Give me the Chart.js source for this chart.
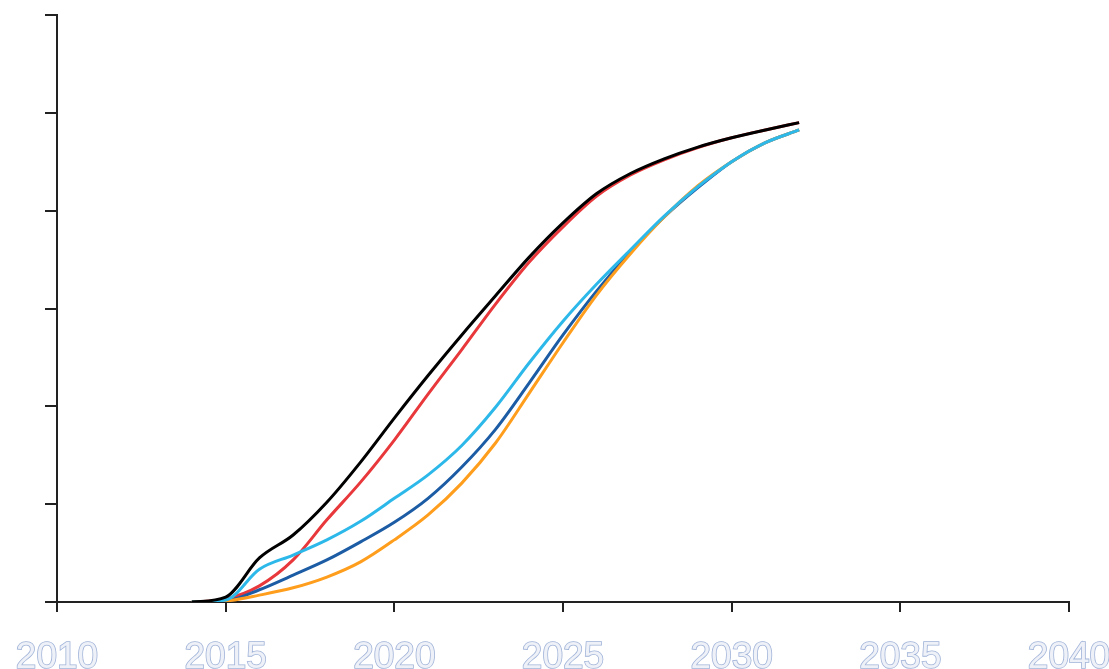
<!DOCTYPE html>
<html>
<head>
<meta charset="utf-8">
<script src="https://cdn.jsdelivr.net/npm/chart.js@4/dist/chart.umd.min.js"></script>
<style>
  body { margin: 0; background: #fff; }
</style>
</head>
<body>
<canvas id="myChart" width="1109" height="669"></canvas>
<script>
// years on the x axis
var years = [2014, 2015, 2016, 2017, 2018, 2019, 2020, 2021, 2022, 2023,
             2024, 2025, 2026, 2027, 2028, 2029, 2030, 2031, 2032];

// series values (share, 0..1.2 axis)
var blackLine = [0, 0.010, 0.090, 0.137, 0.204, 0.286, 0.376, 0.463, 0.546, 0.626,
                 0.705, 0.775, 0.835, 0.876, 0.906, 0.930, 0.949, 0.965, 0.980];
var redLine = [0, 0.006, 0.033, 0.086, 0.168, 0.245, 0.331, 0.425, 0.516, 0.609,
               0.695, 0.767, 0.830, 0.873, 0.904, 0.929, 0.949, 0.965, 0.980];
var cyanLine = [0, 0.004, 0.067, 0.096, 0.127, 0.165, 0.212, 0.260, 0.320, 0.398,
                0.489, 0.574, 0.650, 0.720, 0.789, 0.849, 0.900, 0.939, 0.965];
var blueLine = [0, 0.002, 0.025, 0.055, 0.086, 0.123, 0.163, 0.212, 0.276, 0.353,
                0.448, 0.546, 0.636, 0.716, 0.787, 0.847, 0.900, 0.939, 0.965];
var orangeLine = [0, 0.002, 0.014, 0.029, 0.051, 0.082, 0.127, 0.178, 0.243, 0.325,
                  0.427, 0.530, 0.628, 0.712, 0.787, 0.851, 0.900, 0.939, 0.965];

var xTicks = [2010, 2015, 2020, 2025, 2030, 2035, 2040];

function toPoints(vals) {
  return vals.map(function (v, i) { return { x: years[i], y: v }; });
}

function lineSet(vals, colour) {
  return {
    data: toPoints(vals),
    borderColor: colour,
    borderWidth: 3,
    pointRadius: 0,
    fill: false,
    cubicInterpolationMode: "monotone"
  };
}

var ctx = document.getElementById("myChart").getContext("2d");

// first dataset ends up on top
var myChart = new Chart(ctx, {
  type: "line",
  data: {
    datasets: [
      lineSet(blackLine, "#000000"),
      lineSet(cyanLine, "#2db8ea"),
      lineSet(orangeLine, "#ff9d1c"),
      lineSet(blueLine, "#1c5ca4"),
      lineSet(redLine, "#e8383b")
    ]
  },
  options: {
    responsive: false,
    animation: false,
    layout: { padding: { top: 15, right: 40, left: 0, bottom: 0 } },
    plugins: { legend: { display: false }, tooltip: { enabled: false } },
    scales: {
      x: {
        type: "linear",
        min: 2010,
        max: 2040,
        afterBuildTicks: function (scale) {
          scale.ticks = xTicks.map(function (v) { return { value: v }; });
        },
        afterFit: function (scale) {
          scale.height = 67;
          scale.paddingLeft = 0;
          scale.paddingRight = 0;
        },
        border: { color: "#222", width: 2 },
        grid: { drawOnChartArea: false, tickLength: 10, color: "#222", lineWidth: 2 },
        ticks: {
          padding: 24,
          maxRotation: 0,
          font: { family: "Liberation Sans", size: 37 },
          color: "#eef1f7",
          textStrokeColor: "#9fb2d8",
          textStrokeWidth: 1.6,
          callback: function (v) { return String(v); }
        }
      },
      y: {
        min: 0,
        max: 1.2,
        afterFit: function (scale) { scale.width = 57; },
        border: { color: "#222", width: 2 },
        grid: { drawOnChartArea: false, tickLength: 12, color: "#222", lineWidth: 2 },
        ticks: { stepSize: 0.2, callback: function () { return ""; } }
      }
    }
  }
});
</script>
</body>
</html>
